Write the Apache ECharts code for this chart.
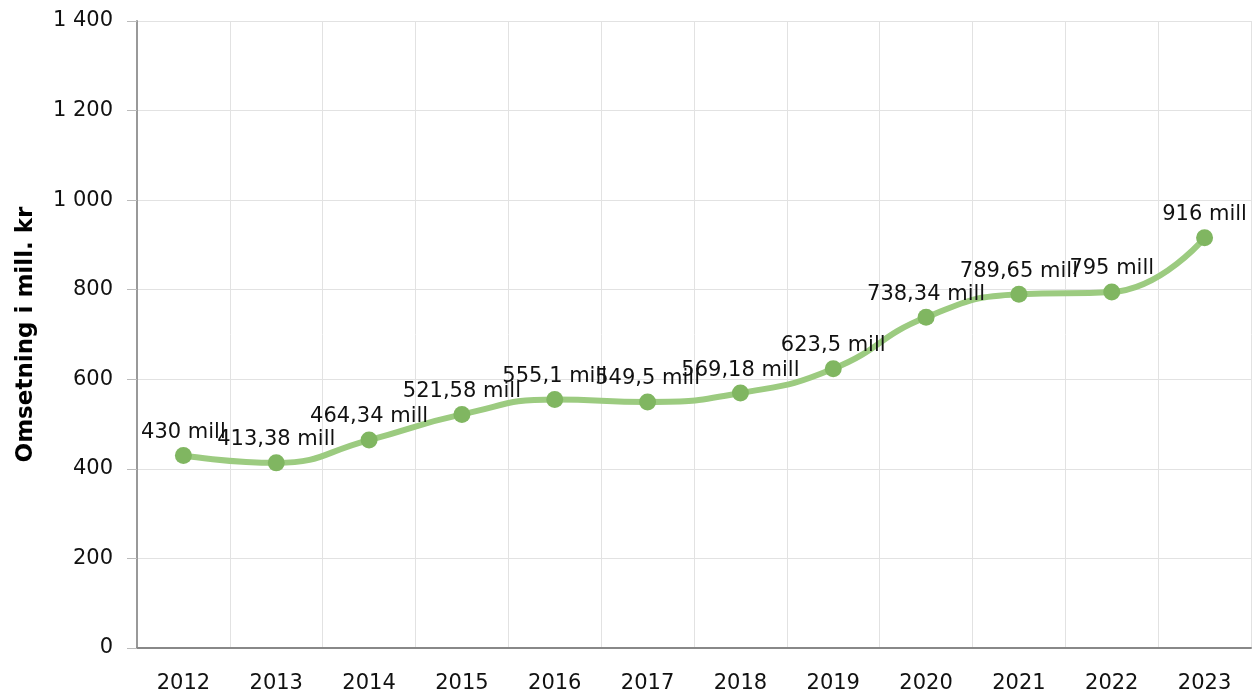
<!DOCTYPE html>
<html lang="no">
<head>
<meta charset="UTF-8">
<title>Omsetning</title>
<script src="https://cdn.jsdelivr.net/npm/echarts@6/dist/echarts.min.js"></script>
<style>
  html, body { margin: 0; padding: 0; background: #fff; }
  #chart { width: 1253px; height: 695px; }
</style>
</head>
<body>
<div id="chart"></div>
<script>
// data
var years = ['2012', '2013', '2014', '2015', '2016', '2017', '2018', '2019', '2020', '2021', '2022', '2023'];
var omsetning = [430, 413.38, 464.34, 521.58, 555.1, 549.5, 569.18, 623.5, 738.34, 789.65, 795, 916];

function tusen(v) {
  return String(v).replace(/\B(?=(\d{3})+(?!\d))/g, ' ');
}

var chart = echarts.init(document.getElementById('chart'));
chart.setOption({
  textStyle: { fontFamily: 'DejaVu Sans' },
  grid: { left: 137, right: 2, top: 21, bottom: 47, containLabel: false, outerBoundsMode: 'none' },
  xAxis: {
    type: 'category',
    data: years,
    boundaryGap: true,
    axisLine: { lineStyle: { color: '#888', width: 2 } },
    axisTick: { alignWithLabel: true, length: 8, lineStyle: { color: '#aaa', width: 2 } },
    axisLabel: { color: '#111', fontSize: 21, margin: 25 },
    splitLine: { show: true, lineStyle: { color: '#e2e2e2', width: 1 } }
  },
  yAxis: {
    type: 'value',
    min: 0,
    max: 1400,
    interval: 200,
    name: 'Omsetning i mill. kr',
    nameLocation: 'middle',
    nameGap: 99,
    nameTextStyle: { fontSize: 23, fontWeight: 'bold', color: '#000' },
    axisLine: { show: true, lineStyle: { color: '#999', width: 2 } },
    axisTick: { show: true, length: 10, lineStyle: { color: '#bbb' } },
    axisLabel: { color: '#111', fontSize: 21, margin: 24, formatter: tusen },
    splitLine: { lineStyle: { color: '#e2e2e2', width: 1 } }
  },
  series: [{
    type: 'line',
    data: omsetning,
    smooth: 0.5,
    symbol: 'circle',
    symbolSize: 17,
    lineStyle: { color: '#9ccb80', width: 6 },
    itemStyle: { color: '#80b661' },
    label: {
      show: true,
      position: 'top',
      distance: 4,
      color: '#111',
      fontSize: 21,
      formatter: function (p) { return String(p.value).replace('.', ',') + ' mill'; }
    },
    labelLayout: { hideOverlap: false }
  }]
});
</script>
</body>
</html>
